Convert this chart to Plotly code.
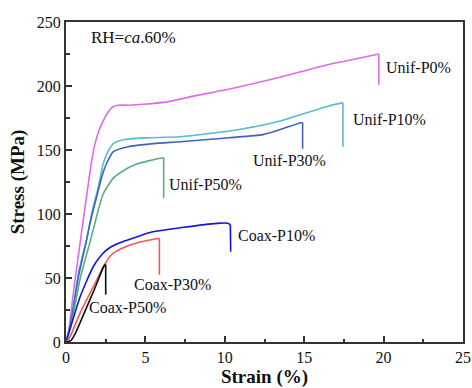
import plotly.graph_objects as go

# Series data: strain (%) and stress (MPa)
unif_p0_strain = [0, 0.1, 0.5, 1.0, 1.41, 1.62, 1.83, 2.1, 2.35, 2.6, 2.8, 3.0, 3.3, 4.0, 4.87, 6.55, 7.8, 10.45, 13.2, 16.6, 17.4, 19.7, 19.7]
unif_p0_stress = [0, 3, 42, 87.5, 124, 142, 155, 166, 173, 178.5, 182, 184, 185, 185, 185.7, 188, 191.5, 198, 206, 217, 219, 225, 201]

unif_p10_strain = [0, 0.3, 0.8, 1.3, 1.62, 2.03, 2.35, 2.65, 2.98, 3.6, 5.0, 7.18, 10.9, 13.3, 16.6, 17.44, 17.44]
unif_p10_stress = [0, 15, 55, 80, 100.5, 121, 139.6, 149, 155, 158, 159.5, 160.4, 166, 172, 184.6, 187, 152.6]

unif_p30_strain = [0, 0.3, 0.8, 1.3, 1.51, 1.93, 2.35, 2.65, 2.98, 3.92, 5.5, 7.18, 10.3, 12.4, 13.5, 14.85, 14.9, 14.9]
unif_p30_stress = [0, 15, 52, 80, 92.7, 113.5, 133, 142, 148.7, 152.6, 155, 156.5, 159.6, 162, 166, 171.5, 171.5, 151]

unif_p50_strain = [0, 0.3, 0.9, 1.51, 1.72, 2.03, 2.35, 2.98, 3.5, 4.45, 5.2, 5.92, 6.15, 6.15]
unif_p50_stress = [0, 12, 50, 78, 88, 103, 116, 128, 133, 139, 141.5, 143.5, 144, 112.5]

coax_p10_strain = [0, 0.25, 0.88, 1.72, 2.3, 2.8, 3.4, 4.2, 5.29, 7.4, 9.5, 10.2, 10.35, 10.37]
coax_p10_stress = [0, 10, 35, 59, 69, 74, 77.5, 81, 85.5, 89.6, 92.7, 92.7, 91.5, 70.5]

coax_p30_strain = [0, 0.25, 0.88, 1.93, 2.4, 2.85, 3.5, 4.5, 5.88, 5.88]
coax_p30_stress = [0, 4, 22.4, 48.4, 60, 68, 73, 77.5, 81, 52.5]

coax_p50_strain = [0, 0.3, 0.59, 1.32, 1.85, 2.37, 2.48, 2.5, 2.5]
coax_p50_stress = [0, 1, 6.8, 27.6, 43, 58.8, 60.5, 60.5, 37]

series = [
    ("Unif-P0%", unif_p0_strain, unif_p0_stress, "#DD6AF0"),
    ("Unif-P10%", unif_p10_strain, unif_p10_stress, "#5BBAD0"),
    ("Unif-P30%", unif_p30_strain, unif_p30_stress, "#3E66B4"),
    ("Unif-P50%", unif_p50_strain, unif_p50_stress, "#5AAE82"),
    ("Coax-P10%", coax_p10_strain, coax_p10_stress, "#1414E0"),
    ("Coax-P30%", coax_p30_strain, coax_p30_stress, "#EE5A5A"),
    ("Coax-P50%", coax_p50_strain, coax_p50_stress, "#111111"),
]

# label positions (data coords, left-anchored)
label_names = ["Unif-P0%", "Unif-P10%", "Unif-P30%", "Unif-P50%", "Coax-P10%", "Coax-P30%", "Coax-P50%"]
label_x = [20.0, 17.95, 11.67, 6.34, 10.7, 4.18, 1.34]
label_y = [214.3, 173.9, 141.6, 122.7, 83.1, 45.1, 27.1]

fig = go.Figure()
for name, xs, ys, col in series:
    # smooth curve up to the fracture point, then a straight vertical drop
    fig.add_trace(go.Scatter(x=xs[:-1], y=ys[:-1], mode="lines", name=name,
                             line=dict(color=col, width=1.6, shape="spline", smoothing=0.6),
                             showlegend=False))
    fig.add_trace(go.Scatter(x=xs[-2:], y=ys[-2:], mode="lines", name=name,
                             line=dict(color=col, width=1.6), showlegend=False))

font = "Liberation Serif, Times New Roman, serif"
for t, x, y in zip(label_names, label_x, label_y):
    fig.add_annotation(x=x, y=y, text=t, showarrow=False, xanchor="left", yanchor="middle",
                       font=dict(family=font, size=16, color="#111111"))

fig.add_annotation(x=1.45, y=237.7, text="RH=<i>ca</i>.60%", showarrow=False,
                   xanchor="left", yanchor="middle",
                   font=dict(family=font, size=17, color="#111111"))

axis_common = dict(
    showline=True, linecolor="#333333", linewidth=2, mirror=True,
    ticks="inside", ticklen=6, tickwidth=1.5, tickcolor="#333333",
    showgrid=False, zeroline=False, automargin=False,
    tickfont=dict(family=font, size=16, color="#111111"),
)

fig.update_xaxes(range=[0, 25], dtick=5, tick0=0,
                 minor=dict(dtick=2.5, ticks="inside", ticklen=3.5, tickwidth=1.5, tickcolor="#333333"),
                 title=dict(text="<b>Strain (%)</b>", font=dict(family=font, size=19, color="#111111"), standoff=14),
                 **axis_common)
fig.update_yaxes(range=[0, 250], dtick=50, tick0=0,
                 minor=dict(dtick=25, ticks="inside", ticklen=3.5, tickwidth=1.5, tickcolor="#333333"),
                 title=dict(text="<b>Stress (MPa)</b>", font=dict(family=font, size=19, color="#111111"), standoff=7),
                 **axis_common)

fig.update_layout(
    width=472, height=388,
    margin=dict(l=66, r=9, t=22, b=46),
    paper_bgcolor="white", plot_bgcolor="white",
)

fig.write_html("out.html")
